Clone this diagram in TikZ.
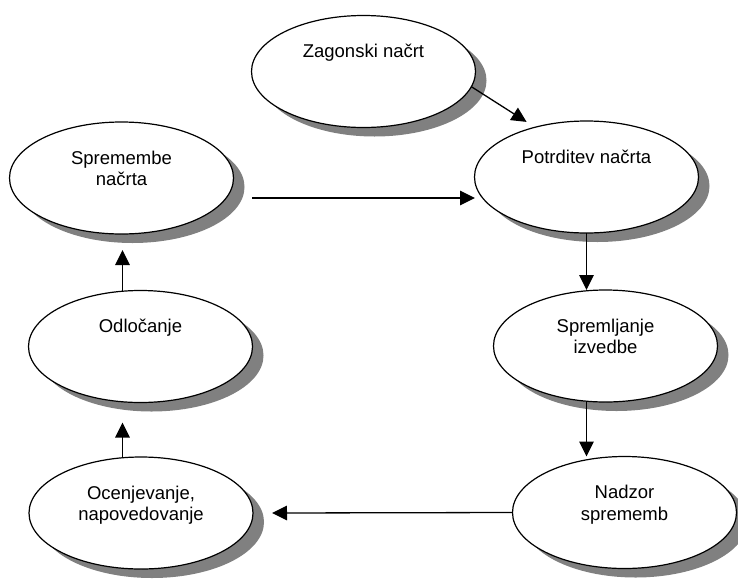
\documentclass[tikz,border=0pt]{standalone}
\usepackage{fontspec}
\setmainfont{Liberation Sans}
\usetikzlibrary{shapes.geometric,arrows.meta,shadows}

\begin{document}
\begin{tikzpicture}[x=1pt,y=-1pt,
  stage/.style={ellipse, draw, line width=1.2pt, fill=white, outer sep=0pt,
    inner sep=0pt, minimum width=224pt, minimum height=112pt,
    drop shadow={shadow xshift=11pt, shadow yshift=-9pt, fill=black!50, opacity=1}},
  lbl/.style={anchor=north, align=center, inner sep=0pt,
    font=\fontsize{18.5}{21.5}\selectfont},
  arr/.style={line width=1.3pt, -{Triangle[length=15pt,width=14.5pt]}}]
  \useasboundingbox[fill=white] (0,0) rectangle (738,579);

  % process stages
  \node[stage] (zag)   at (363.5, 71.5) {};
  \node[stage] (pot)   at (586.5,177)   {};
  \node[stage] (sprem) at (605.5,346)   {};
  \node[stage] (nad)   at (624.5,512.5) {};
  \node[stage] (oce)   at (141,513)     {};
  \node[stage] (odl)   at (140.5,346.5) {};
  \node[stage] (spr)   at (121.5,178)   {};

  % stage captions, set in the upper part of each ellipse
  \node[lbl] (zagT)   at ([yshift=27.5pt]zag.center)   {Zagonski načrt};
  \node[lbl] (potT)   at ([yshift=27.5pt]pot.center)   {Potrditev načrta};
  \node[lbl] (spremT) at ([yshift=27.5pt]sprem.center) {Spremljanje\\izvedbe};
  \node[lbl] (nadT)   at ([yshift=27.5pt]nad.center)   {Nadzor\\sprememb};
  \node[lbl] (oceT)   at ([yshift=27.5pt]oce.center)   {Ocenjevanje,\\napovedovanje};
  \node[lbl] (odlT)   at ([yshift=27.5pt]odl.center)   {Odločanje};
  \node[lbl] (sprT)   at ([yshift=27.5pt]spr.center)   {Spremembe\\načrta};

  % flow between stages
  \draw[arr, shorten >=10pt] (zag.-8) -- (pot.136);
  \draw[arr] ([xshift=130.5pt,yshift=-20pt]spr.center)
          -- ([xshift=-111.5pt,yshift=-21pt]pot.center);
  \draw[arr] (pot.south) -- (pot.south |- sprem.north);
  \draw[arr] (pot.south |- sprem.south) -- (pot.south |- nad.north);
  \draw[arr] (nad.west) -- ([xshift=19pt]oce.east);
  \draw[arr] ([xshift=-18.5pt]oce.north) -- ([xshift=-18pt,yshift=-20pt]odl.south);
  \draw[arr] ([xshift=-18pt]odl.north) -- ([xshift=1pt,yshift=-16pt]spr.south);
\end{tikzpicture}
\end{document}
